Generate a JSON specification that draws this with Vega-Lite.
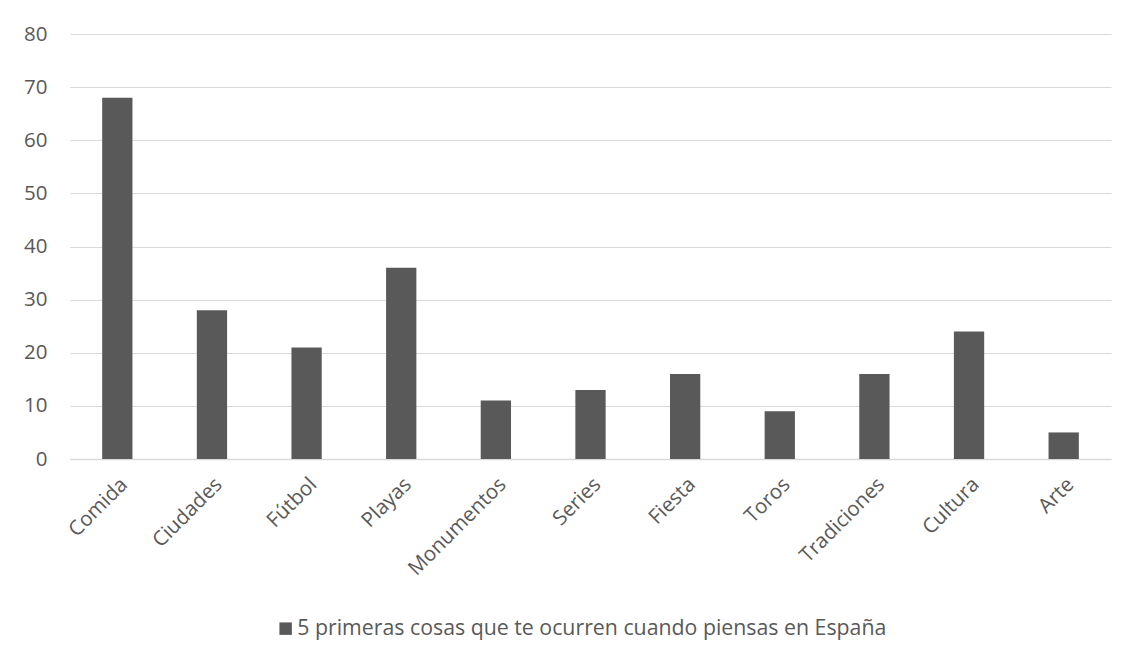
{
  "$schema": "https://vega.github.io/schema/vega-lite/v6.json",
  "width": 1041,
  "height": 425,
  "autosize": {"type": "none"},
  "padding": {"left": 70, "top": 34, "right": 26, "bottom": 207},
  "background": "white",
  "data": {
    "values": [
      {"categoria": "Comida", "valor": 68, "serie": "5 primeras cosas que te ocurren cuando piensas en España"},
      {"categoria": "Ciudades", "valor": 28, "serie": "5 primeras cosas que te ocurren cuando piensas en España"},
      {"categoria": "Fútbol", "valor": 21, "serie": "5 primeras cosas que te ocurren cuando piensas en España"},
      {"categoria": "Playas", "valor": 36, "serie": "5 primeras cosas que te ocurren cuando piensas en España"},
      {"categoria": "Monumentos", "valor": 11, "serie": "5 primeras cosas que te ocurren cuando piensas en España"},
      {"categoria": "Series", "valor": 13, "serie": "5 primeras cosas que te ocurren cuando piensas en España"},
      {"categoria": "Fiesta", "valor": 16, "serie": "5 primeras cosas que te ocurren cuando piensas en España"},
      {"categoria": "Toros", "valor": 9, "serie": "5 primeras cosas que te ocurren cuando piensas en España"},
      {"categoria": "Tradiciones", "valor": 16, "serie": "5 primeras cosas que te ocurren cuando piensas en España"},
      {"categoria": "Cultura", "valor": 24, "serie": "5 primeras cosas que te ocurren cuando piensas en España"},
      {"categoria": "Arte", "valor": 5, "serie": "5 primeras cosas que te ocurren cuando piensas en España"}
    ]
  },
  "mark": {"type": "bar"},
  "encoding": {
    "x": {
      "field": "categoria",
      "type": "nominal",
      "sort": null,
      "scale": {"paddingInner": 0.68, "paddingOuter": 0.34},
      "axis": {
        "title": null,
        "labelAngle": -45,
        "labelPadding": 15,
        "ticks": false,
        "domain": true,
        "domainColor": "#d9d9d9",
        "domainWidth": 1.5
      }
    },
    "y": {
      "field": "valor",
      "type": "quantitative",
      "scale": {"domain": [0, 80]},
      "axis": {
        "title": null,
        "values": [0, 10, 20, 30, 40, 50, 60, 70, 80],
        "ticks": false,
        "domain": false,
        "grid": true,
        "gridColor": "#d9d9d9",
        "gridWidth": 1,
        "labelPadding": 23
      }
    },
    "color": {
      "field": "serie",
      "type": "nominal",
      "scale": {"range": ["#595959"]},
      "legend": {
        "title": null,
        "orient": "none",
        "legendX": 205,
        "legendY": 584,
        "symbolType": "square",
        "symbolSize": 155,
        "symbolStrokeWidth": 0,
        "symbolOpacity": 1,
        "labelOffset": 1
      }
    }
  },
  "config": {
    "view": {"stroke": null},
    "font": "Open Sans",
    "axis": {
      "labelFont": "Open Sans",
      "labelFontSize": 20.5,
      "labelColor": "#595959"
    },
    "legend": {
      "labelFont": "Open Sans",
      "labelFontSize": 21.3,
      "labelColor": "#595959",
      "labelLimit": 0
    }
  }
}
